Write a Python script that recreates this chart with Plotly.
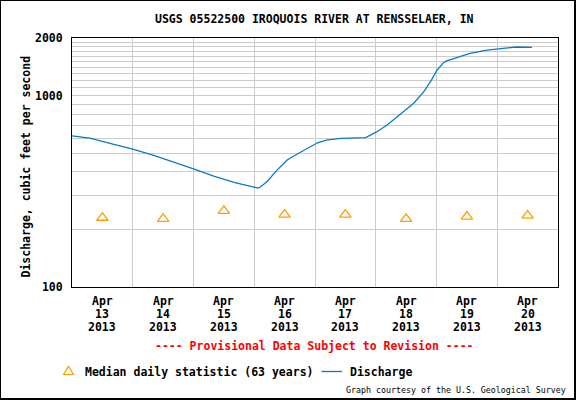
import math
import plotly.graph_objects as go

# ---------------- data ----------------
discharge_times = [
    "2013-04-13 00:00", "2013-04-13 07:00", "2013-04-13 15:00",
    "2013-04-14 00:00", "2013-04-14 08:00", "2013-04-14 16:00",
    "2013-04-15 00:00", "2013-04-15 08:00", "2013-04-15 16:00",
    "2013-04-15 23:30", "2013-04-16 01:30", "2013-04-16 02:15",
    "2013-04-16 05:00", "2013-04-16 09:00", "2013-04-16 13:00",
    "2013-04-16 17:00", "2013-04-16 21:00", "2013-04-17 01:00",
    "2013-04-17 04:30", "2013-04-17 10:00", "2013-04-17 20:00",
    "2013-04-18 00:30", "2013-04-18 04:30", "2013-04-18 08:30",
    "2013-04-18 12:00", "2013-04-18 15:00", "2013-04-18 19:00",
    "2013-04-18 21:00", "2013-04-18 22:00", "2013-04-19 00:00",
    "2013-04-19 02:45", "2013-04-19 04:00", "2013-04-19 06:30",
    "2013-04-19 13:15", "2013-04-19 20:00", "2013-04-20 02:30",
    "2013-04-20 07:45", "2013-04-20 13:45",
]
discharge_cfs = [
    616, 600, 563,
    526, 489, 451,
    414, 380, 352,
    334, 329, 332,
    355, 408, 461,
    495, 530, 567,
    586, 598, 603,
    648, 702, 776,
    841, 912, 1048,
    1146, 1206, 1345,
    1486, 1517, 1559,
    1663, 1730, 1773,
    1795, 1788,
]

median_dates = [
    "2013-04-13 12:00", "2013-04-14 12:00", "2013-04-15 12:00", "2013-04-16 12:00",
    "2013-04-17 12:00", "2013-04-18 12:00", "2013-04-19 12:00", "2013-04-20 12:00",
]
median_cfs = [230, 227, 250, 239, 239, 227, 233, 236]

tick_month = ["Apr"] * 8
tick_day = ["13", "14", "15", "16", "17", "18", "19", "20"]
tick_year = ["2013"] * 8

y_tick_vals = [100, 1000, 2000]
y_minor_vals = [200, 300, 400, 500, 600, 700, 800, 900,
                1100, 1200, 1300, 1400, 1500, 1600, 1700, 1800, 1900]

# ---------------- layout helpers ----------------
W, H = 576, 400
L, R, T, B = 72, 18, 38, 113
PW, PH = W - L - R, H - T - B


def px(xp):
    return (xp - L) / PW


def py(yp):
    return (H - B - yp) / PH


MONO = "DejaVu Sans Mono"
BOLD = dict(family=MONO, size=11.5, color="black", weight="bold")
BLUE = "#0a7ac8"
ORANGE = "#ffa000"
GRID = "#cccccc"

fig = go.Figure()
fig.add_trace(go.Scatter(
    x=discharge_times, y=discharge_cfs, mode="lines",
    line=dict(color=BLUE, width=1.3), name="Discharge", showlegend=False,
))
fig.add_trace(go.Scatter(
    x=median_dates, y=median_cfs, mode="markers",
    marker=dict(symbol="triangle-up-open", size=10, color=ORANGE, line=dict(width=1.3, color=ORANGE)),
    name="Median daily statistic (63 years)", showlegend=False,
))

annotations = []
for d, m, dd, yy in zip(median_dates, tick_month, tick_day, tick_year):
    for txt, ypix in ((m, 301), (dd, 314), (yy, 327)):
        annotations.append(dict(x=d, xref="x", y=py(ypix), yref="paper", text=txt,
                                showarrow=False, font=BOLD, xanchor="center", yanchor="middle"))

annotations += [
    dict(x=px(314.5), y=py(19), xref="paper", yref="paper", showarrow=False,
         text="USGS 05522500 IROQUOIS RIVER AT RENSSELAER, IN", font=BOLD,
         xanchor="center", yanchor="middle"),
    dict(x=px(25), y=py(166.5), xref="paper", yref="paper", showarrow=False,
         text="Discharge, cubic feet per second", font=BOLD, textangle=-90,
         xanchor="center", yanchor="middle"),
    dict(x=px(314.5), y=py(346), xref="paper", yref="paper", showarrow=False,
         text="---- Provisional Data Subject to Revision ----",
         font=dict(family=MONO, size=11.5, color="#ff0000", weight="bold"),
         xanchor="center", yanchor="middle"),
    dict(x=px(83), y=py(371.5), xref="paper", yref="paper", showarrow=False,
         text="Median daily statistic (63 years)", font=BOLD,
         xanchor="left", yanchor="middle"),
    dict(x=px(347.5), y=py(371.5), xref="paper", yref="paper", showarrow=False,
         text="Discharge", font=BOLD, xanchor="left", yanchor="middle"),
    dict(x=px(567.5), y=py(390), xref="paper", yref="paper", showarrow=False,
         text="Graph courtesy of the U.S. Geological Survey",
         font=dict(family=MONO, size=8.3, color="black"),
         xanchor="right", yanchor="middle"),
]

shapes = [
    # outer frame
    dict(type="rect", xref="paper", yref="paper", x0=px(0), x1=px(575), y0=py(399), y1=py(0),
         line=dict(color="black", width=2), layer="above"),
    # legend symbols
    dict(type="path", xref="paper", yref="paper",
         path=f"M {px(63.5)},{py(374.5)} L {px(73.5)},{py(374.5)} L {px(68.5)},{py(366.5)} Z",
         line=dict(color=ORANGE, width=1.2)),
    dict(type="line", xref="paper", yref="paper", x0=px(321.5), x1=px(342), y0=py(371.5), y1=py(371.5),
         line=dict(color=BLUE, width=1.3)),
]

fig.update_layout(
    width=W, height=H,
    margin=dict(l=L, r=R, t=T, b=B, pad=0),
    paper_bgcolor="white", plot_bgcolor="white",
    showlegend=False,
    annotations=annotations, shapes=shapes,
    xaxis=dict(
        type="date", range=["2013-04-13 00:00", "2013-04-21 00:00"],
        tickmode="linear", tick0="2013-04-13", dtick=86400000,
        showticklabels=False, ticks="", showgrid=True, gridcolor=GRID, gridwidth=1,
        showline=True, linecolor="black", linewidth=1, mirror=True, zeroline=False,
    ),
    yaxis=dict(
        type="log", range=[2, math.log10(2000)],
        tickmode="array", tickvals=y_tick_vals, ticktext=[str(v) for v in y_tick_vals],
        tickfont=BOLD, ticks="", ticklabelstandoff=6,
        showgrid=True, gridcolor=GRID, gridwidth=1,
        minor=dict(tickmode="array", tickvals=y_minor_vals, showgrid=True,
                   gridcolor=GRID, gridwidth=1, ticks=""),
        showline=True, linecolor="black", linewidth=1, mirror=True, zeroline=False,
    ),
)

fig.write_html("out.html")
